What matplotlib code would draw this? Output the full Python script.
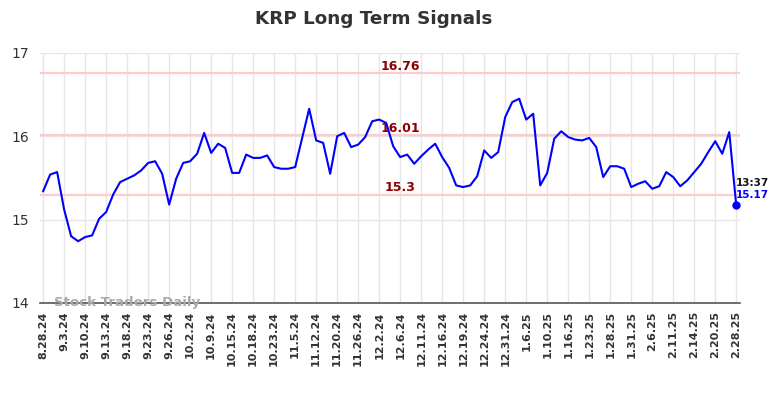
"""KRP long term signals chart"""

import matplotlib
matplotlib.use("Agg")
import matplotlib.pyplot as plt

prices = [
    15.34, 15.54, 15.57, 15.12, 14.80, 14.74, 14.79, 14.81, 15.01, 15.09,
    15.30, 15.45, 15.49, 15.53, 15.59, 15.68, 15.70, 15.55, 15.18, 15.49,
    15.68, 15.70, 15.79, 16.04, 15.80, 15.91, 15.86, 15.56, 15.56, 15.78,
    15.74, 15.74, 15.77, 15.63, 15.61, 15.61, 15.63, 15.98, 16.33, 15.95,
    15.92, 15.55, 16.00, 16.04, 15.87, 15.90, 15.99, 16.18, 16.20, 16.16,
    15.88, 15.75, 15.78, 15.67, 15.76, 15.84, 15.91, 15.75, 15.62, 15.41,
    15.39, 15.41, 15.52, 15.83, 15.74, 15.81, 16.23, 16.41, 16.45, 16.20,
    16.27, 15.41, 15.56, 15.97, 16.06, 15.99, 15.96, 15.95, 15.98, 15.87,
    15.51, 15.64, 15.64, 15.61, 15.39, 15.43, 15.46, 15.37, 15.40, 15.57,
    15.51, 15.40, 15.47, 15.57, 15.67, 15.81, 15.94, 15.79, 16.05, 15.17,
]
tick_labels = [
    "8.28.24", "9.3.24", "9.10.24", "9.13.24", "9.18.24", "9.23.24", "9.26.24",
    "10.2.24", "10.9.24", "10.15.24", "10.18.24", "10.23.24", "11.5.24",
    "11.12.24", "11.20.24", "11.26.24", "12.2.24", "12.6.24", "12.11.24",
    "12.16.24", "12.19.24", "12.24.24", "12.31.24", "1.6.25", "1.10.25",
    "1.16.25", "1.23.25", "1.28.25", "1.31.25", "2.6.25", "2.11.25",
    "2.14.25", "2.20.25", "2.28.25",
]
signal_levels = [16.76, 16.01, 15.3]
signal_labels = ["16.76", "16.01", "15.3"]
last_time = "13:37"

fig = plt.figure(figsize=(7.84, 3.98), dpi=100)
ax = fig.add_axes([0.051, 0.239, 0.893, 0.628])

x = list(range(len(prices)))
tick_pos = [i * 3 for i in range(len(tick_labels))]

ax.set_xlim(-0.45, len(prices) - 1 + 0.55)
ax.set_ylim(14, 17)
ax.set_yticks([14, 15, 16, 17])
ax.set_xticks(tick_pos)
ax.set_xticklabels(tick_labels, rotation=90, fontsize=8, fontweight="bold", color="#333333")
ax.tick_params(axis="y", labelsize=10, colors="#333333", length=0, pad=8)
ax.tick_params(axis="x", length=0, pad=6)
ax.grid(True, color="#e6e6e6", linewidth=1)
ax.set_axisbelow(True)
for side in ["top", "right", "left"]:
    ax.spines[side].set_visible(False)
ax.spines["bottom"].set_color("#555555")
ax.spines["bottom"].set_linewidth(1.2)

# signal levels with their labels just above the line
for level, label in zip(signal_levels, signal_labels):
    ax.axhline(level, color="#ffcccc", linewidth=1.6, zorder=1)
    ax.text(51, level + 0.08, label, color="#8b0000", fontsize=9, fontweight="bold",
            ha="center", va="center")

ax.plot(x, prices, color="blue", linewidth=1.5, zorder=3)
ax.plot(x[-1], prices[-1], "o", color="blue", markersize=5, zorder=4)
ax.text(x[-1], prices[-1] + 0.27, last_time, fontsize=7.5, fontweight="bold",
        color="#111111", ha="left", va="center")
ax.text(x[-1], prices[-1] + 0.12, f"{prices[-1]}", fontsize=7.5, fontweight="bold",
        color="blue", ha="left", va="center")

ax.text(1.6, 14.01, "Stock Traders Daily", fontsize=9.6, fontweight="bold",
        color="#aaaaaa", ha="left", va="center", zorder=5)

fig.suptitle("KRP Long Term Signals", x=0.477, y=0.975, fontsize=13.2,
             fontweight="bold", color="#333333")

fig.savefig("out.png", dpi=100)
